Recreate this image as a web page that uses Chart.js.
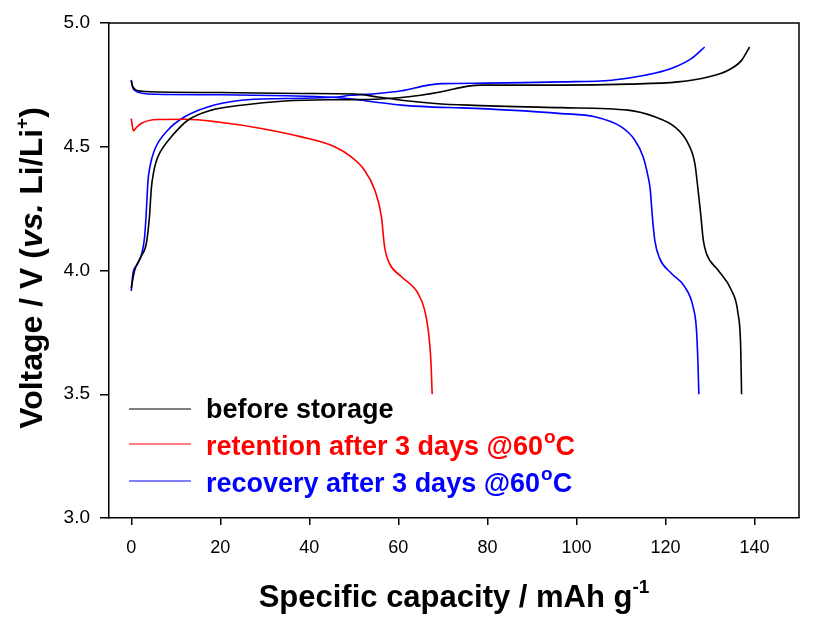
<!DOCTYPE html>
<html>
<head>
<meta charset="utf-8">
<script src="https://cdn.jsdelivr.net/npm/chart.js@4.4.1/dist/chart.umd.min.js"></script>
<style>
html,body{margin:0;padding:0;background:#fff;}
canvas{display:block;}
</style>
</head>
<body>
<canvas id="c" width="814" height="626"></canvas>
<script>
// ---- data (specific capacity, mAh/g ; voltage, V) ----
const beforeChargeCap = [0, 0.75, 2.2, 3.4, 4.1, 4.5, 5.0, 5.6, 6.4, 9, 12.7, 18, 24.7, 34.5, 45.7, 53.2, 60.7, 65, 69.7, 75.7, 78.7, 96.6, 111.6, 122.8, 129.6, 134.1, 137.1, 138.9];
const beforeChargeV   = [3.93, 4.0, 4.056, 4.111, 4.22, 4.33, 4.395, 4.44, 4.475, 4.54, 4.607, 4.648, 4.668, 4.685, 4.69, 4.691, 4.699, 4.708, 4.722, 4.745, 4.749, 4.749, 4.753, 4.762, 4.782, 4.809, 4.849, 4.903];

const beforeDischargeCap = [0, 0.3, 1, 2.5, 4.1, 20, 38.2, 50.1, 55.4, 60.7, 68.2, 75.7, 96.6, 111.6, 117.6, 122.1, 125.1, 126.6, 127.3, 127.9, 128.5, 129.2, 131.8, 134.8, 136.3, 136.9, 137.1];
const beforeDischargeV   = [4.766, 4.745, 4.73, 4.724, 4.722, 4.719, 4.715, 4.713, 4.701, 4.688, 4.675, 4.668, 4.658, 4.648, 4.621, 4.58, 4.513, 4.433, 4.33, 4.231, 4.123, 4.069, 4.002, 3.921, 3.827, 3.692, 3.5];

const retentionCap = [0, 0.5, 1.0, 2.2, 6, 12, 19.5, 29.2, 38.2, 45.7, 49.4, 52.2, 54.7, 56.2, 56.9, 58.0, 60.7, 64.4, 65.9, 66.8, 67.3, 67.6];
const retentionV   = [4.614, 4.564, 4.575, 4.594, 4.61, 4.611, 4.60, 4.574, 4.54, 4.5, 4.459, 4.41, 4.325, 4.217, 4.096, 4.029, 3.975, 3.908, 3.841, 3.747, 3.639, 3.5];

const recoveryChargeCap = [0, 0.4, 1.5, 3.0, 3.4, 3.75, 4.2, 5.2, 8.2, 12, 17.2, 24.7, 34.5, 45.6, 49.4, 55.4, 60.7, 66.7, 69.7, 80, 96.6, 107.9, 115.4, 121.3, 125.8, 128.8];
const recoveryChargeV   = [3.917, 3.99, 4.029, 4.136, 4.244, 4.36, 4.42, 4.486, 4.567, 4.621, 4.661, 4.688, 4.695, 4.700, 4.708, 4.715, 4.726, 4.749, 4.755, 4.757, 4.762, 4.769, 4.789, 4.816, 4.856, 4.903];

const recoveryDischargeCap = [0, 0.3, 1, 2.5, 5.6, 20, 35, 45, 50, 55, 60.7, 67, 74.2, 85, 96.6, 104.1, 110.1, 113.1, 115, 116.1, 116.6, 117, 117.6, 118.7, 121.3, 124.3, 126.2, 126.97, 127.3, 127.5];
const recoveryDischargeV   = [4.77, 4.74, 4.725, 4.716, 4.712, 4.710, 4.706, 4.700, 4.692, 4.68, 4.668, 4.661, 4.657, 4.648, 4.634, 4.621, 4.58, 4.527, 4.459, 4.379, 4.325, 4.231, 4.123, 4.049, 3.989, 3.935, 3.854, 3.76, 3.626, 3.5];

const xTickValues = [0, 20, 40, 60, 80, 100, 120, 140];
const yTickValues = [3.0, 3.5, 4.0, 4.5, 5.0];

const legendLabels = ['before storage', 'retention after 3 days @60', 'recovery after 3 days @60'];
const legendColors = ['#000000', '#ff0000', '#0000ff'];

const FONT = "'Liberation Sans', Arial, Helvetica, sans-serif";

function pts(xs, ys) { return xs.map((x, i) => ({ x: x, y: ys[i] })); }
function ds(xs, ys, color) {
  return {
    data: pts(xs, ys), showLine: true, borderColor: color, backgroundColor: color,
    borderWidth: 1.6, pointRadius: 0, fill: false, cubicInterpolationMode: 'monotone'
  };
}

function drawParts(ctx, parts, cx, baseY) {
  let total = 0;
  parts.forEach(p => { ctx.font = p.font; p.w = ctx.measureText(p.t).width; total += p.w; });
  let x = cx - total / 2;
  parts.forEach(p => {
    ctx.font = p.font;
    ctx.fillText(p.t, x, baseY - (p.dy || 0));
    x += p.w;
  });
}

const decorPlugin = {
  id: 'decor',
  afterDraw(chart) {
    const ctx = chart.ctx;
    const a = chart.chartArea;
    ctx.save();
    // frame (top & right)
    ctx.strokeStyle = '#000';
    ctx.lineWidth = 1.5;
    ctx.beginPath();
    ctx.moveTo(a.left, a.top);
    ctx.lineTo(a.right, a.top);
    ctx.lineTo(a.right, a.bottom);
    ctx.stroke();

    // legend
    const rowsY = [409, 444, 481];
    const baseY = [418, 455, 492];
    ctx.textAlign = 'left';
    ctx.textBaseline = 'alphabetic';
    legendLabels.forEach((lab, i) => {
      ctx.strokeStyle = legendColors[i];
      ctx.lineWidth = 1.2;
      ctx.beginPath();
      ctx.moveTo(129, rowsY[i]);
      ctx.lineTo(191, rowsY[i]);
      ctx.stroke();
      ctx.fillStyle = legendColors[i];
      ctx.font = 'bold 27px ' + FONT;
      ctx.fillText(lab, 206, baseY[i]);
      if (i > 0) {
        let x = 206 + ctx.measureText(lab).width;
        ctx.font = 'bold 19px ' + FONT;
        ctx.fillText('o', x + 1, baseY[i] - 12);
        x += ctx.measureText('o').width + 1;
        ctx.font = 'bold 27px ' + FONT;
        ctx.fillText('C', x, baseY[i]);
      }
    });

    // x title
    ctx.fillStyle = '#000';
    const big = 'bold 31px ' + FONT;
    const sup = 'bold 19px ' + FONT;
    drawParts(ctx, [
      { t: 'Specific capacity / mAh g', font: big },
      { t: '-1', font: sup, dy: 14 }
    ], (a.left + a.right) / 2, 607);

    // y title (rotated)
    ctx.save();
    ctx.translate(42, 268);
    ctx.rotate(-Math.PI / 2);
    drawParts(ctx, [
      { t: 'Voltage / V (', font: 'bold 32px ' + FONT },
      { t: 'vs.', font: 'italic bold 32px ' + FONT },
      { t: ' Li/Li', font: 'bold 32px ' + FONT },
      { t: '+', font: sup, dy: 14 },
      { t: ')', font: 'bold 32px ' + FONT }
    ], 0, 0);
    ctx.restore();
    ctx.restore();
  }
};

new Chart(document.getElementById('c').getContext('2d'), {
  type: 'scatter',
  data: {
    datasets: [
      ds(beforeChargeCap, beforeChargeV, '#000000'),
      ds(beforeDischargeCap, beforeDischargeV, '#000000'),
      ds(retentionCap, retentionV, '#ff0000'),
      ds(recoveryChargeCap, recoveryChargeV, '#0000ff'),
      ds(recoveryDischargeCap, recoveryDischargeV, '#0000ff')
    ]
  },
  options: {
    responsive: false,
    animation: false,
    devicePixelRatio: 1,
    layout: { padding: { left: 0, right: 15, top: 23, bottom: 0 } },
    plugins: { legend: { display: false }, tooltip: { enabled: false } },
    scales: {
      x: {
        type: 'linear', min: -5, max: 150,
        afterBuildTicks: s => { s.ticks = xTickValues.map(v => ({ value: v })); },
        afterFit: s => { s.height = 108; },
        ticks: { color: '#000', font: { family: FONT, size: 18 }, padding: 12, maxRotation: 0, autoSkip: false },
        grid: { drawOnChartArea: false, drawTicks: true, tickLength: 7, color: '#000', lineWidth: 1.5 },
        border: { display: true, color: '#000', width: 1.5 }
      },
      y: {
        type: 'linear', min: 3, max: 5,
        afterBuildTicks: s => { s.ticks = yTickValues.map(v => ({ value: v })); },
        afterFit: s => { s.width = 109; },
        ticks: { color: '#000', font: { family: FONT, size: 19 }, padding: 10, callback: v => Number(v).toFixed(1), autoSkip: false },
        grid: { drawOnChartArea: false, drawTicks: true, tickLength: 9, color: '#000', lineWidth: 1.5 },
        border: { display: true, color: '#000', width: 1.5 }
      }
    }
  },
  plugins: [decorPlugin]
});
</script>
</body>
</html>
